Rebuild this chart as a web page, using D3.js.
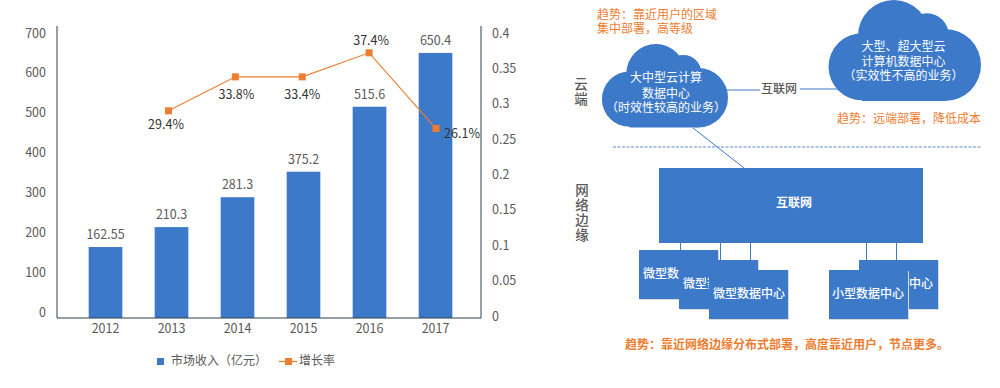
<!DOCTYPE html>
<html lang="zh-CN">
<head>
    <meta charset="UTF-8">
    <title>市场收入与增长率</title>
    <script src="https://cdn.jsdelivr.net/npm/d3@7/dist/d3.min.js"></script>
    <style>
        html, body { margin: 0; padding: 0; background: #fff; }
        svg { display: block; }
        text { font-family: "Noto Sans CJK SC", "Noto Sans", sans-serif; }
    </style>
</head>
<body>
<script type="text/javascript">
    const years = ["2012", "2013", "2014", "2015", "2016", "2017"];
    // 柱高按图上读取，标签是图上写的数字
    const revenue = [163, 213, 288, 352, 515, 650];
    const revenueLabels = ["162.55", "210.3", "281.3", "375.2", "515.6", "650.4"];
    const growthYears = ["2013", "2014", "2015", "2016", "2017"];
    const growth = [0.29, 0.338, 0.338, 0.372, 0.265];
    const growthLabels = ["29.4%", "33.8%", "33.4%", "37.4%", "26.1%"];
    const leftTicks = [0, 100, 200, 300, 400, 500, 600, 700];
    const rightTicks = [0, 0.05, 0.1, 0.15, 0.2, 0.25, 0.3, 0.35, 0.4];

    const cloudLeftText = ["大中型云计算", "数据中心", "（时效性较高的业务）"];
    const cloudRightText = ["大型、超大型云", "计算机数据中心", "（实效性不高的业务）"];
    const edgeLabels = ["微型数据中心", "微型数据中心", "微型数据中心", "小型数据中心", "小型数据中心"];

    const BLUE = "#3c79c9", ORANGE = "#ed7d31", GRAY = "#595959", DARK = "#2f3f4f";

    let width = 1000,
        height = 388,
        axisLeft = 57,
        axisRight = 481,
        axisTop = 26,
        baseline = 318;

    let svg = d3.select("body").append("svg")
        .attr("width", width)
        .attr("height", height);

    let x = d3.scaleBand().domain(years).range([72.5, 468.5]).paddingInner(0.49).paddingOuter(0.245);
    // 折线的点和柱子中心不完全对齐
    let xLine = d3.scalePoint().domain(growthYears).range([168.5, 436]);
    let yLeft = d3.scaleLinear().domain([0, 700]).range([312, 33]);
    let yRight = d3.scaleLinear().domain([0, 0.4]).range([316, 33]);

    function styleAxis(g) {
        g.select(".domain").remove();
        g.selectAll(".tick line").remove();
        g.selectAll("text").attr("fill", GRAY).attr("font-size", 12.5);
    }

    function renderAxes() {
        svg.append("g")
            .attr("transform", "translate(" + (axisLeft - 2) + ",0)")
            .call(d3.axisLeft(yLeft).tickValues(leftTicks).tickSize(0).tickPadding(9))
            .call(styleAxis);

        svg.append("g")
            .attr("transform", "translate(" + (axisRight + 2) + ",0)")
            .call(d3.axisRight(yRight).tickValues(rightTicks).tickFormat(d3.format("~g")).tickSize(0).tickPadding(9))
            .call(styleAxis);

        svg.append("g")
            .attr("transform", "translate(0," + (baseline + 6) + ")")
            .call(d3.axisBottom(x).tickSize(0).tickPadding(0))
            .call(styleAxis)
            .selectAll("text").attr("dy", "0.71em");
    }

    function renderBars() {
        svg.selectAll("rect.bar")
            .data(revenue)
            .enter().append("rect")
            .attr("class", "bar")
            .attr("x", (d, i) => x(years[i]))
            .attr("width", x.bandwidth())
            .attr("y", d => yLeft(d))
            .attr("height", d => baseline - yLeft(d))
            .attr("fill", BLUE);

        svg.selectAll("text.bar-label")
            .data(revenue)
            .enter().append("text")
            .attr("class", "bar-label")
            .attr("x", (d, i) => x(years[i]) + x.bandwidth() / 2)
            .attr("y", d => yLeft(d) - 8)
            .attr("text-anchor", "middle")
            .attr("font-size", 12.5)
            .attr("fill", GRAY)
            .text((d, i) => revenueLabels[i]);

        // 边框线压在柱子上面
        svg.append("path")
            .attr("d", "M" + axisLeft + "," + axisTop + "V" + baseline + "H" + axisRight + "V" + axisTop)
            .attr("fill", "none")
            .attr("stroke", DARK)
            .attr("stroke-width", 1);
    }

    function renderLine() {
        let cx = (d, i) => xLine(growthYears[i]);
        let line = d3.line().x(cx).y(d => yRight(d));

        svg.append("path")
            .attr("d", line(growth))
            .attr("fill", "none")
            .attr("stroke", ORANGE)
            .attr("stroke-width", 1.1);

        svg.selectAll("rect.marker")
            .data(growth)
            .enter().append("rect")
            .attr("class", "marker")
            .attr("x", (d, i) => cx(d, i) - 3.5)
            .attr("y", d => yRight(d) - 3.5)
            .attr("width", 7)
            .attr("height", 7)
            .attr("fill", ORANGE);

        // 标签位置：2013-2015 在点下方，2016 在上方，2017 在右边
        let dx = [-2.5, 1, 0, 2, 26];
        let dy = [18, 22, 22, -8, 9];
        svg.selectAll("text.growth-label")
            .data(growth)
            .enter().append("text")
            .attr("class", "growth-label")
            .attr("x", (d, i) => cx(d, i) + dx[i])
            .attr("y", (d, i) => yRight(d) + dy[i])
            .attr("text-anchor", "middle")
            .attr("font-size", 12.5)
            .attr("fill", "#333")
            .text((d, i) => growthLabels[i]);
    }

    function renderLegend() {
        let g = svg.append("g");
        g.append("rect").attr("x", 157).attr("y", 358).attr("width", 7).attr("height", 7).attr("fill", BLUE);
        g.append("text").attr("x", 171).attr("y", 365).attr("font-size", 12).attr("fill", GRAY).text("市场收入（亿元）");
        g.append("line").attr("x1", 279).attr("x2", 297).attr("y1", 361.5).attr("y2", 361.5)
            .attr("stroke", ORANGE).attr("stroke-width", 1.3);
        g.append("rect").attr("x", 285).attr("y", 358).attr("width", 7).attr("height", 7).attr("fill", ORANGE);
        g.append("text").attr("x", 299).attr("y", 365).attr("font-size", 12).attr("fill", GRAY).text("增长率");
    }

    // 右边的示意图
    const cloudLobes = [[62.7, 35.7, 35.7], [96, 35, 21.7], [31, 66.7, 33.5], [114, 65, 36]];
    const boxPos = [[639, 250, 4], [679, 260, 4], [709, 270, 4], [859, 260, 2], [829, 270, 3]];
    const linkX = [680.5, 720.5, 750.5, 866.5, 896.5];

    function drawCloud(left, top, scale, lines, textX, lineY) {
        let g = svg.append("g").attr("transform", "translate(" + left + "," + top + ") scale(" + scale + ")");
        g.selectAll("circle").data(cloudLobes).enter().append("circle")
            .attr("cx", d => d[0]).attr("cy", d => d[1]).attr("r", d => d[2]).attr("fill", BLUE);
        g.append("rect").attr("x", 31).attr("y", 40).attr("width", 83).attr("height", 61).attr("fill", BLUE);
        svg.selectAll(null).data(lines).enter().append("text")
            .attr("x", textX)
            .attr("y", (d, i) => lineY[i])
            .attr("text-anchor", "middle")
            .attr("font-size", 12)
            .attr("fill", "#fff")
            .text(d => d);
    }

    function note(str, px, py, weight) {
        svg.append("text").attr("x", px).attr("y", py)
            .attr("font-size", 12)
            .attr("font-weight", weight || 400)
            .attr("fill", ORANGE)
            .text(str);
    }

    function sideLabel(str, px, py) {
        svg.append("text").attr("x", px).attr("y", py)
            .attr("writing-mode", "vertical-rl")
            .attr("letter-spacing", 1.5)
            .attr("font-size", 13.5)
            .attr("font-weight", 500)
            .attr("fill", GRAY)
            .text(str);
    }

    function renderDiagram() {
        // 连接线
        svg.append("line").attr("x1", 693).attr("y1", 128).attr("x2", 744).attr("y2", 168)
            .attr("stroke", BLUE).attr("stroke-width", 1);
        svg.append("line").attr("x1", 725).attr("x2", 760).attr("y1", 90).attr("y2", 90)
            .attr("stroke", BLUE).attr("stroke-width", 1);
        svg.append("line").attr("x1", 800).attr("x2", 840).attr("y1", 89).attr("y2", 89)
            .attr("stroke", BLUE).attr("stroke-width", 1);
        svg.selectAll("line.link").data(linkX).enter().append("line")
            .attr("class", "link")
            .attr("x1", d => d).attr("x2", d => d).attr("y1", 243).attr("y2", 272)
            .attr("stroke", BLUE).attr("stroke-width", 1);

        drawCloud(604, 44, 124 / 150, cloudLeftText, 666, [82, 98, 112]);
        drawCloud(831, 0, 1, cloudRightText, 903.5, [51, 66, 80]);

        svg.append("text").attr("x", 761).attr("y", 93).attr("font-size", 12).attr("font-weight", 500)
            .attr("fill", GRAY).text("互联网");

        svg.append("line").attr("x1", 613).attr("x2", 981).attr("y1", 147).attr("y2", 147)
            .attr("stroke", "#5b8bc9").attr("stroke-width", 1).attr("stroke-dasharray", "3 1.5");

        note("趋势：靠近用户的区域", 597, 19);
        note("集中部署，高等级", 597, 33);
        note("趋势：远端部署，降低成本", 837, 123);
        note("趋势：靠近网络边缘分布式部署，高度靠近用户，节点更多。", 625, 349, 700);

        svg.append("rect").attr("x", 659).attr("y", 168).attr("width", 264).attr("height", 75).attr("fill", BLUE);
        svg.append("text").attr("x", 794).attr("y", 207).attr("text-anchor", "middle")
            .attr("font-size", 12).attr("font-weight", 700).attr("fill", "#fff").text("互联网");

        // 后画的盒子盖住前面盒子的文字
        boxPos.forEach(function (b, i) {
            svg.append("rect").attr("x", b[0] + 1).attr("y", b[1] + 1).attr("width", 79).attr("height", 49)
                .attr("fill", "#d9d9d9");
            svg.append("rect").attr("x", b[0]).attr("y", b[1]).attr("width", 79).attr("height", 49)
                .attr("fill", BLUE);
            svg.append("text").attr("x", b[0] + b[2]).attr("y", b[1] + 28)
                .attr("font-size", 12).attr("font-weight", 500).attr("fill", "#fff").text(edgeLabels[i]);
        });

        // 左边竖排文字
        sideLabel("云端", 581, 77);
        sideLabel("网络边缘", 582, 183);
    }

    renderBars();
    renderAxes();
    renderLine();
    renderLegend();
    renderDiagram();
</script>
</body>
</html>
